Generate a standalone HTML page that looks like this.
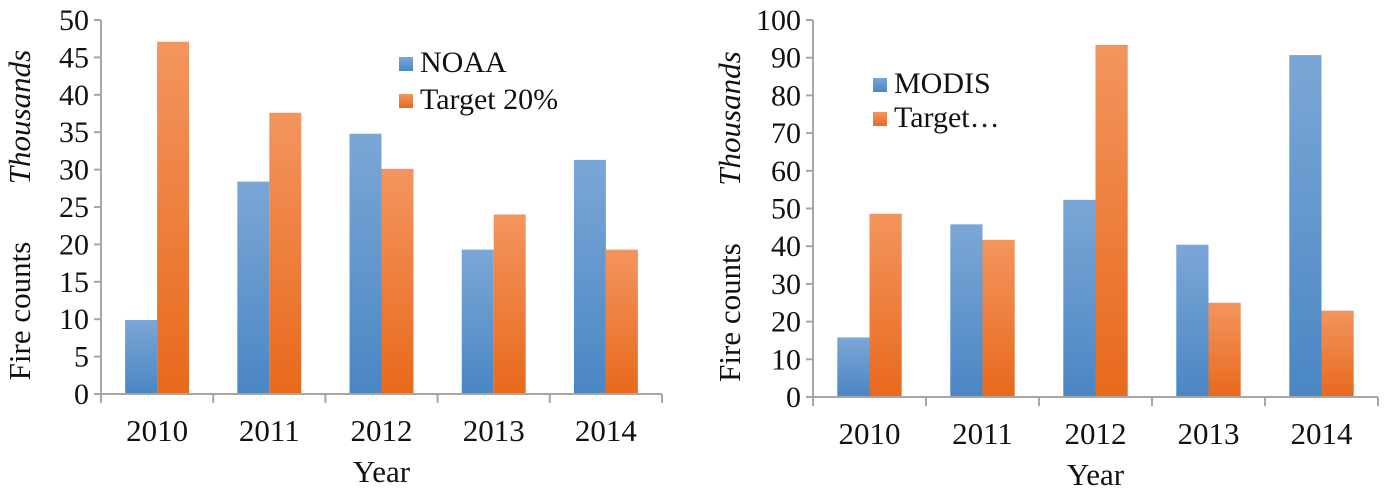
<!DOCTYPE html>
<html><head><meta charset="utf-8"><style>
html,body{margin:0;padding:0;background:#fff;}
svg{display:block;}
text{font-family:"Liberation Serif","Times New Roman","Noto Serif CJK SC","DejaVu Serif",serif;}
</style></head><body>
<svg width="1384" height="496" viewBox="0 0 1384 496" xmlns="http://www.w3.org/2000/svg">
<defs>
<linearGradient id="gb" x1="0" y1="0" x2="0" y2="1"><stop offset="0" stop-color="#7ba7d6"/><stop offset="1" stop-color="#4a86c4"/></linearGradient>
<linearGradient id="go" x1="0" y1="0" x2="0" y2="1"><stop offset="0" stop-color="#f3955e"/><stop offset="1" stop-color="#e8691d"/></linearGradient>
</defs>
<g id="c1"></g>
<g id="c2"></g>
</svg>
<script>
const categories = ["2010","2011","2012","2013","2014"];
const noaaValues = [9.9, 28.4, 34.8, 19.3, 31.3];
const noaaTarget = [47.1, 37.6, 30.1, 24.0, 19.3];
const modisValues = [15.8, 45.8, 52.3, 40.4, 90.7];
const modisTarget = [48.6, 41.7, 93.4, 25.0, 22.9];
const leftTicks = [0,5,10,15,20,25,30,35,40,45,50];
const rightTicks = [0,10,20,30,40,50,60,70,80,90,100];
const NS = "http://www.w3.org/2000/svg";
const FF = '"Liberation Serif", "Times New Roman", "Noto Serif CJK SC", "DejaVu Serif", serif';
function mk(parent, tag, attrs, text){
  const e = document.createElementNS(NS, tag);
  for (const k in attrs) e.setAttribute(k, attrs[k]);
  if (text !== undefined) { e.textContent = text; e.style.fontFamily = FF; }
  parent.appendChild(e);
  return e;
}
function chart(g, cfg){
  const {x0,x1,y0,yTop,max,ticks,s1,s2,name1,name2,titleX,leg} = cfg;
  const cw = (x1-x0)/categories.length;
  const yS = v => y0 - (v/max)*(y0-yTop);
  const bw = cw*0.285;
  categories.forEach((c,i)=>{
    const cx = x0 + cw*i + cw/2;
    const b1 = mk(g,'rect',{x:cx-bw,y:yS(s1[i]),width:bw,height:y0-yS(s1[i]),fill:'url(#gb)'});
    
    
    const b2 = mk(g,'rect',{x:cx,y:yS(s2[i]),width:bw,height:y0-yS(s2[i]),fill:'url(#go)'});
    
    
    const t = mk(g,'text',{x:cx,y:y0+47,'font-size':31,'text-anchor':'middle',fill:'#111'},c);
    
    
  });
  const ya = mk(g,'line',{x1:x0,y1:yTop,x2:x0,y2:y0,stroke:'#a6a6a6','stroke-width':2});
  
  
  const xa = mk(g,'line',{x1:x0-7,y1:y0,x2:x1,y2:y0,stroke:'#a6a6a6','stroke-width':2});
  
  
  for (let i=0;i<=categories.length;i++){
    const tx = x0+cw*i;
    mk(g,'line',{x1:tx,y1:y0,x2:tx,y2:y0+9,stroke:'#a6a6a6','stroke-width':2});
  }
  ticks.forEach(v=>{
    const y = yS(v);
    mk(g,'line',{x1:x0-7,y1:y,x2:x0,y2:y,stroke:'#a6a6a6','stroke-width':2});
    const t = mk(g,'text',{x:x0-12,y:y+10,'font-size':30,'text-anchor':'end',fill:'#111'},String(v));
    
    
  });
  const yt = mk(g,'text',{transform:`translate(${titleX},${(y0+yTop)/2+104}) rotate(-90)`,'font-size':31,fill:'#111','text-anchor':'middle'},'Fire counts');
  
  
  const th = mk(g,'text',{transform:`translate(${titleX},${(y0+yTop)/2-90}) rotate(-90)`,'font-size':31,'font-style':'italic',fill:'#111','text-anchor':'middle'},'Thousands');
  
  
  const xt = mk(g,'text',{x:(x0+x1)/2,y:y0+88,'font-size':31,fill:'#111','text-anchor':'middle'},'Year');
  
  
  const l1 = mk(g,'rect',{x:leg.x,y:leg.y,width:14,height:14,fill:'url(#gb)'});
  
  
  const lt1 = mk(g,'text',{x:leg.x+21,y:leg.y+15,'font-size':30,fill:'#111'},name1);
  
  
  const l2 = mk(g,'rect',{x:leg.x,y:leg.y+leg.dy,width:14,height:14,fill:'url(#go)'});
  
  
  const lt2 = mk(g,'text',{x:leg.x+21,y:leg.y+leg.dy+15,'font-size':30,fill:'#111'},name2);
  
  
}
chart(document.getElementById('c1'),{x0:101,x1:662,y0:394,yTop:20,max:50,ticks:leftTicks,s1:noaaValues,s2:noaaTarget,name1:'NOAA',name2:'Target 20%',titleX:30,leg:{x:399,y:57,dy:37}});
chart(document.getElementById('c2'),{x0:813,x1:1378,y0:397,yTop:20,max:100,ticks:rightTicks,s1:modisValues,s2:modisTarget,name1:'MODIS',name2:'Target…',titleX:740,leg:{x:873,y:78,dy:34}});
</script>
</body></html>
